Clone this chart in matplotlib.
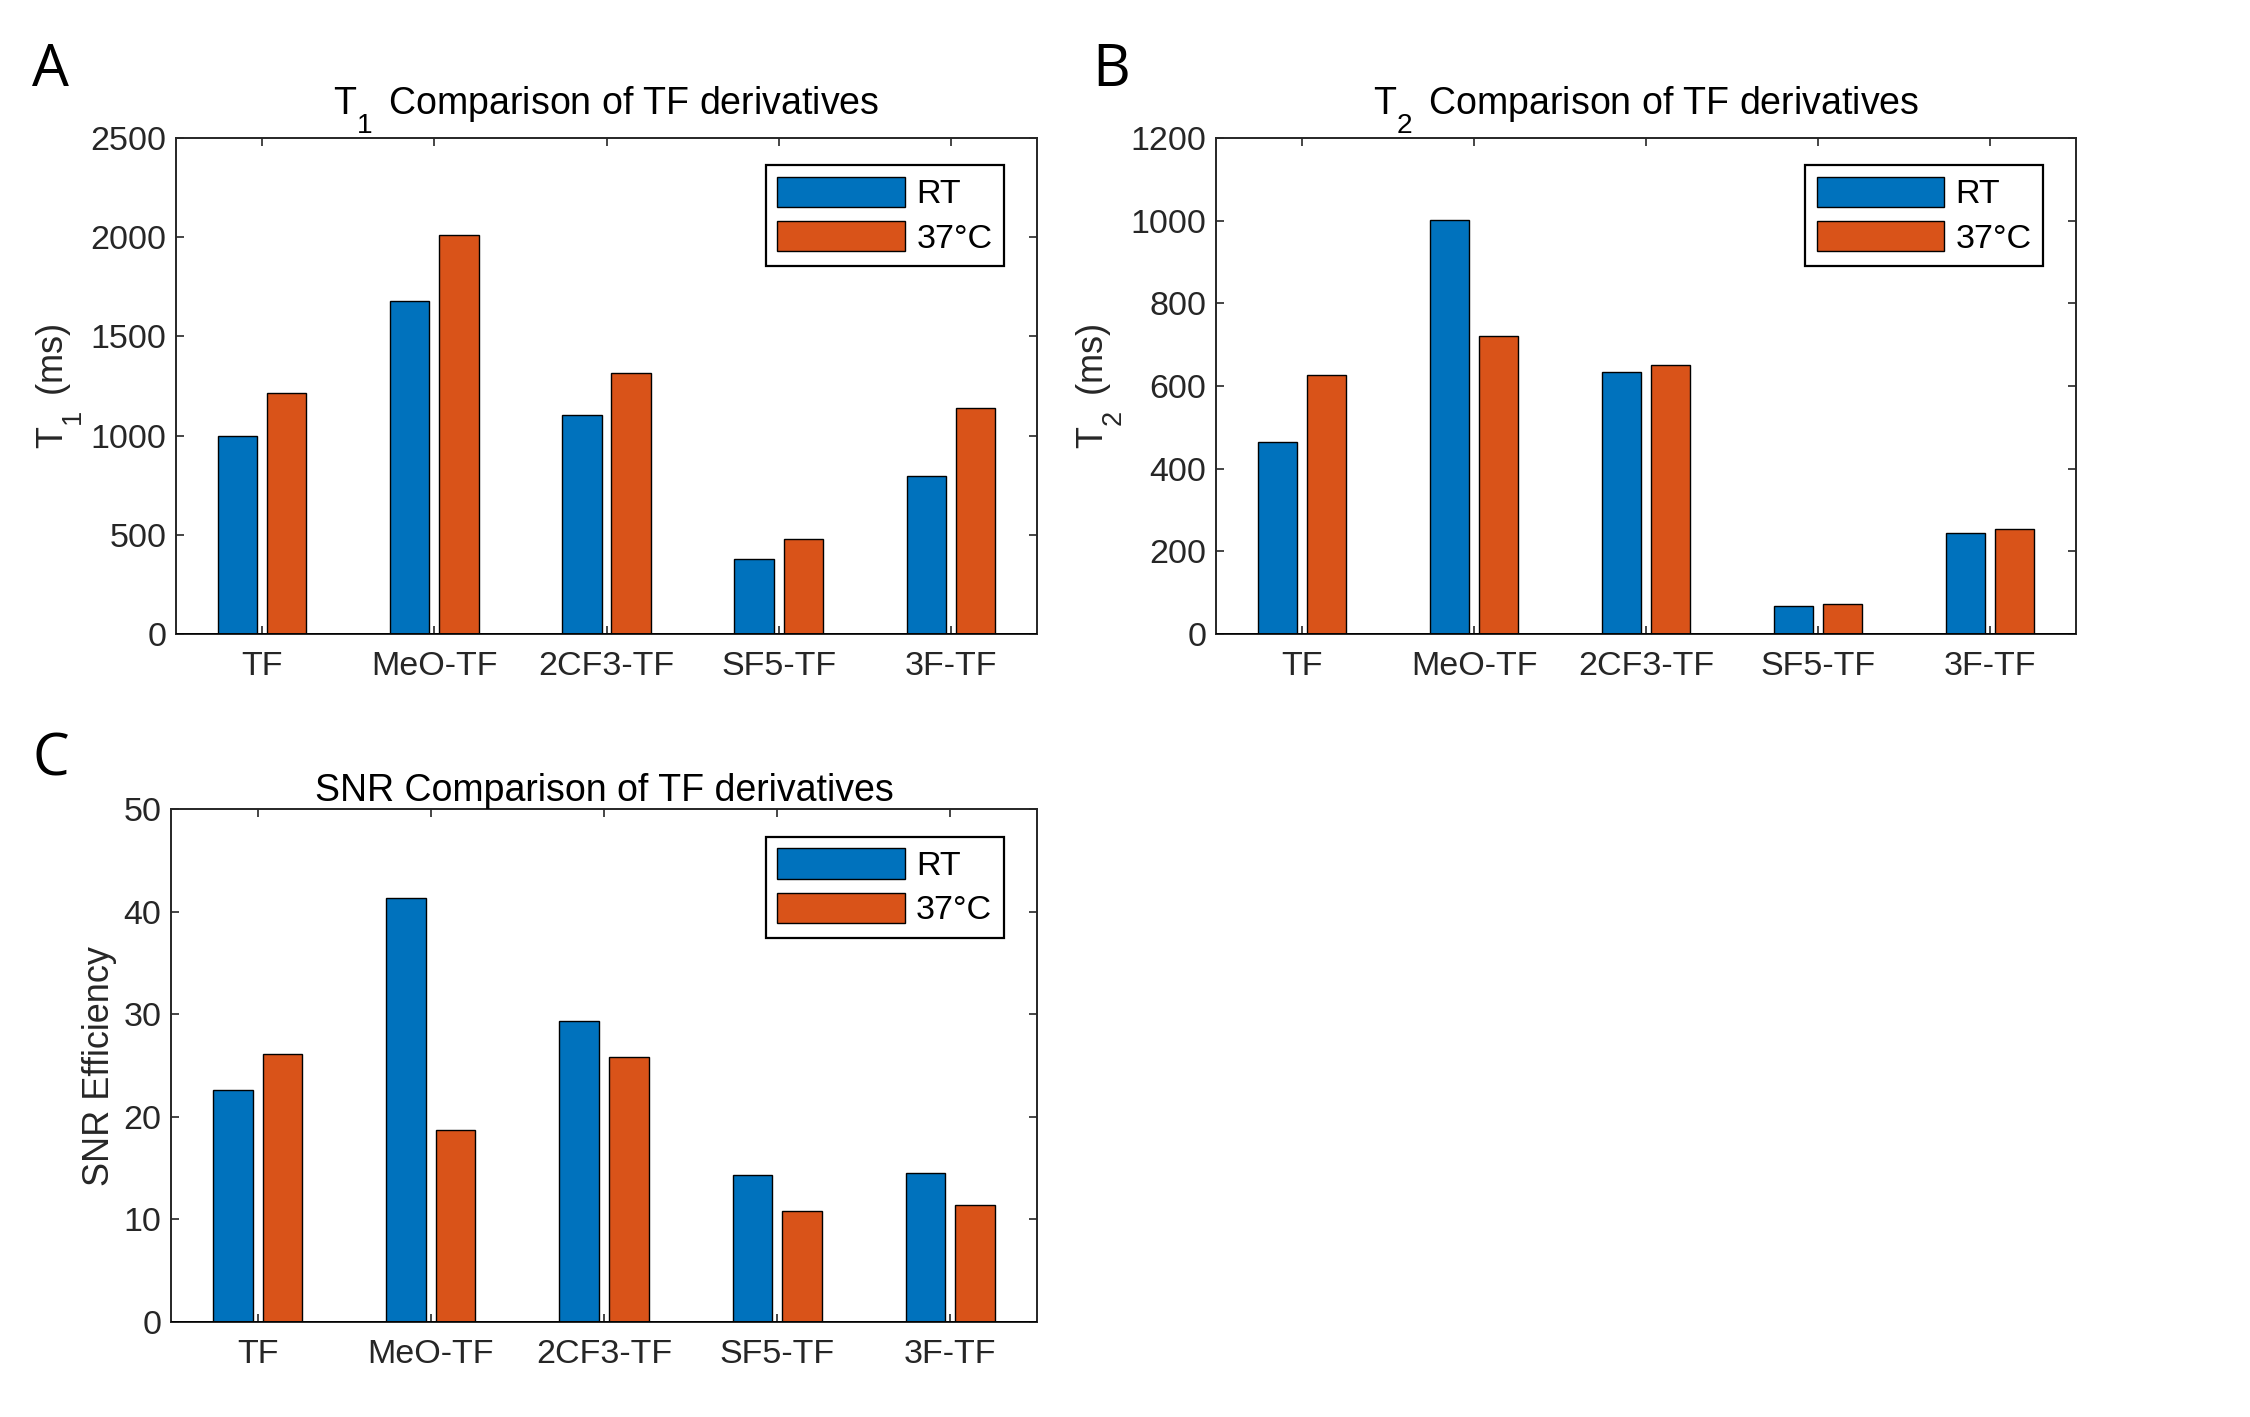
import matplotlib
matplotlib.use('Agg')
import matplotlib.pyplot as plt
import numpy as np

# lower subscripts (MATLAB-like tex rendering)
try:
    import matplotlib._mathtext as _mt
    _mt.FontConstantsBase.subdrop = 0.95
    _mt.FontConstantsBase.sub1 = 0.95
    _mt.SHRINK_FACTOR = 0.75
except Exception:
    pass

# ---------------- data ----------------
categories = ['TF', 'MeO-TF', '2CF3-TF', 'SF5-TF', '3F-TF']
series_names = ['RT', '37°C']

t1_rt = [998, 1677, 1104, 380, 796]
t1_37 = [1217, 2009, 1318, 481, 1137]

t2_rt = [464, 1002, 633, 68, 244]
t2_37 = [627, 721, 650, 73, 253]

snr_rt = [22.6, 41.3, 29.3, 14.3, 14.5]
snr_37 = [26.1, 18.7, 25.8, 10.8, 11.4]

t1_yticks = [0, 500, 1000, 1500, 2000, 2500]
t2_yticks = [0, 200, 400, 600, 800, 1000, 1200]
snr_yticks = [0, 10, 20, 30, 40, 50]

titles = ['T$_1\\,$ Comparison of TF derivatives',
          'T$_2\\,$ Comparison of TF derivatives',
          'SNR Comparison of TF derivatives']
title_pads = [17, 17, 6]
ylabels = ['T$_1\\,$ (ms)', 'T$_2\\,$ (ms)', 'SNR Efficiency']
panel_letters = ['A', 'B', 'C']

# ---------------- style ----------------
plt.rcParams['font.family'] = ['Liberation Sans', 'DejaVu Sans']
plt.rcParams['mathtext.fontset'] = 'custom'
plt.rcParams['mathtext.rm'] = 'Liberation Sans'
plt.rcParams['mathtext.it'] = 'Liberation Sans:italic'
plt.rcParams['mathtext.default'] = 'regular'

BLUE = '#0072BD'
ORANGE = '#D95319'
AXC = '#262626'

fig = plt.figure(figsize=(22.5, 14.17), dpi=100)

W, H = 2250, 1417
def rect(l, t, r, b):
    return [l / W, 1 - b / H, (r - l) / W, (b - t) / H]

axA = fig.add_axes(rect(176, 138, 1037, 634))
axB = fig.add_axes(rect(1216, 138, 2076, 634))
axC = fig.add_axes(rect(171, 809, 1037, 1322))

x = np.arange(1, len(categories) + 1)
off = 0.1429
bw = 0.2286

panels = [
    (axA, t1_rt, t1_37, t1_yticks),
    (axB, t2_rt, t2_37, t2_yticks),
    (axC, snr_rt, snr_37, snr_yticks),
]

FS = 24.5
for i, (ax, rt, w37, yt) in enumerate(panels):
    ax.bar(x - off, rt, bw, color=BLUE, edgecolor='black', linewidth=1.0,
           label=series_names[0], zorder=2)
    ax.bar(x + off, w37, bw, color=ORANGE, edgecolor='black', linewidth=1.0,
           label=series_names[1], zorder=2)
    ax.set_xlim(0.5, 5.5)
    ax.set_ylim(yt[0], yt[-1])
    ax.set_yticks(yt)
    ax.set_xticks(x)
    ax.set_xticklabels(categories)
    ax.tick_params(axis='both', direction='in', length=6, width=1.2,
                   color=AXC, labelcolor=AXC, labelsize=FS,
                   top=True, right=True)
    ax.tick_params(axis='y', pad=7)
    ax.tick_params(axis='x', pad=12)
    for s in ax.spines.values():
        s.set_linewidth(1.4)
        s.set_color(AXC)
    ax.axhline(0, color='black', linewidth=2.0, zorder=3)
    ax.set_title(titles[i], fontsize=27, pad=title_pads[i], color='black')
    ax.set_ylabel(ylabels[i], fontsize=26, color=AXC, va='center')
    leg = ax.legend(loc='upper right', bbox_to_anchor=(0.9617, 0.9456),
                    borderaxespad=0, fontsize=FS, handlelength=3.75,
                    handleheight=1.0, labelspacing=0.3, borderpad=0.34,
                    handletextpad=0.33, fancybox=False, framealpha=1,
                    edgecolor='black')
    leg.get_frame().set_linewidth(1.6)
    for t in leg.get_texts():
        t.set_color('black')

axA.yaxis.set_label_coords(-0.136, 0.5)
axB.yaxis.set_label_coords(-0.136, 0.5)
axC.yaxis.set_label_coords(-0.082, 0.5)

# panel letters
letter_pos = [(32, 86), (1092, 86), (33, 776)]
for L, (px, py) in zip(panel_letters, letter_pos):
    fig.text(px / W, 1 - py / H, L, fontsize=42, family=['Open Sans', 'DejaVu Sans'],
             ha='left', va='baseline', color='black')

fig.savefig('out.png', dpi=100, facecolor='white')
